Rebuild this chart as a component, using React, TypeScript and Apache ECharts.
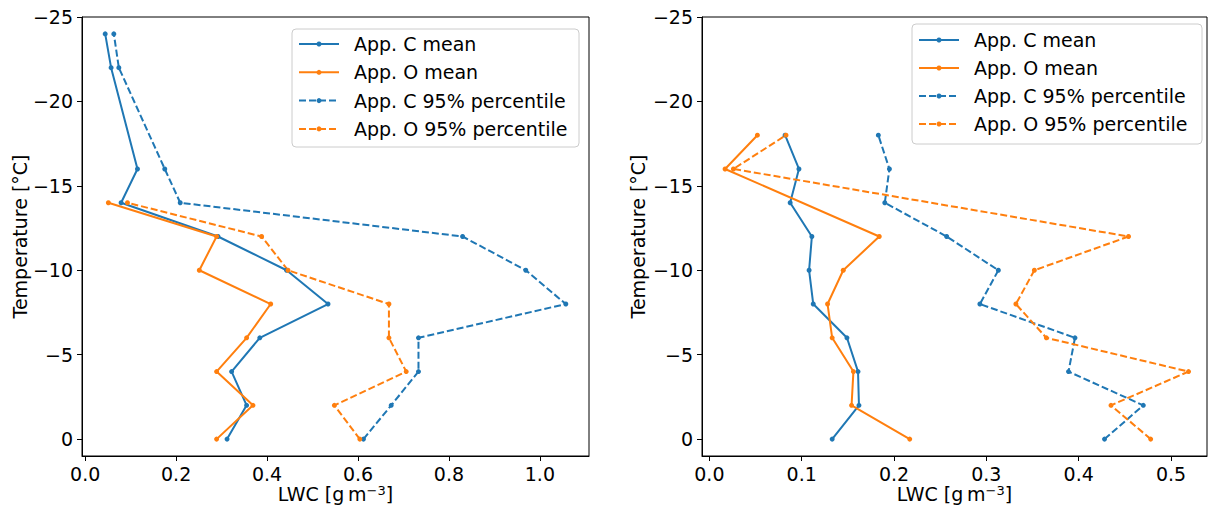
import React, { useEffect, useRef } from "react";
import * as echarts from "echarts";

// Temperature levels (°C) and LWC values (g m^-3)
const tempLeftC = [0, -2, -4, -6, -8, -10, -12, -14, -16, -22, -24];
const leftCMean = [0.312, 0.355, 0.322, 0.384, 0.534, 0.443, 0.292, 0.079, 0.115, 0.057, 0.044];
const leftC95 = [0.612, 0.673, 0.733, 0.733, 1.057, 0.969, 0.83, 0.209, 0.175, 0.074, 0.063];
const tempLeftO = [0, -2, -4, -6, -8, -10, -12, -14];
const leftOMean = [0.289, 0.369, 0.289, 0.355, 0.408, 0.251, 0.289, 0.051];
const leftO95 = [0.604, 0.548, 0.706, 0.668, 0.668, 0.446, 0.388, 0.093];

const tempRightC = [0, -2, -4, -6, -8, -10, -12, -14, -16, -18];
const rightCMean = [0.133, 0.162, 0.161, 0.149, 0.1125, 0.108, 0.111, 0.0875, 0.097, 0.082];
const rightC95 = [0.428, 0.47, 0.389, 0.396, 0.293, 0.313, 0.257, 0.19, 0.195, 0.183];
const tempRightO = [0, -2, -4, -6, -8, -10, -12, -16, -18];
const rightOMean = [0.217, 0.154, 0.156, 0.133, 0.128, 0.145, 0.184, 0.017, 0.052];
const rightO95 = [0.478, 0.435, 0.519, 0.365, 0.332, 0.352, 0.454, 0.026, 0.083];

const tempTicks = [-25, -20, -15, -10, -5, 0];
const leftXTicks = [0, 0.2, 0.4, 0.6, 0.8, 1.0];
const rightXTicks = [0, 0.1, 0.2, 0.3, 0.4, 0.5];

const seriesNames = ["App. C mean", "App. O mean", "App. C 95% percentile", "App. O 95% percentile"];

const BLUE = "#1f77b4";
const ORANGE = "#ff7f0e";
const FONT = "DejaVu Sans";
const FS = 19;
const DASH = [7, 3];

const fmtTemp = (v: number) => (v < 0 ? "\u2212" + Math.abs(v) : String(v));

function makeSeries(name: string, xs: number[], temps: number[], color: string, dashed: boolean, axis: number) {
  return {
    name,
    type: "line",
    xAxisIndex: axis,
    yAxisIndex: axis,
    data: temps.map((t, i) => [xs[i], t]),
    symbol: "circle",
    symbolSize: 5,
    showSymbol: true,
    silent: true,
    lineStyle: { color, width: 2, type: dashed ? DASH : "solid" },
    itemStyle: { color },
    emphasis: { disabled: true },
  };
}

// Matplotlib-style legend box: line sample with a dot marker, then the label
function legendGraphic(id: string, boxX: number, boxY: number, boxW: number, boxH: number, rowY0: number, rowStep: number, lineX: number, textX: number) {
  const colors = [BLUE, ORANGE, BLUE, ORANGE];
  const children: any[] = [
    {
      type: "rect",
      shape: { x: boxX, y: boxY, width: boxW, height: boxH, r: 4 },
      style: { fill: "rgba(255,255,255,0.8)", stroke: "#cccccc", lineWidth: 1 },
    },
  ];
  seriesNames.forEach((name, i) => {
    const y = rowY0 + i * rowStep;
    children.push({
      type: "line",
      shape: { x1: lineX, y1: y, x2: lineX + 40, y2: y },
      style: { stroke: colors[i], lineWidth: 2, lineDash: i >= 2 ? DASH : null },
    });
    children.push({
      type: "circle",
      shape: { cx: lineX + 20, cy: y, r: 2.5 },
      style: { fill: colors[i] },
    });
    children.push({
      type: "text",
      x: textX,
      y,
      style: { text: name, font: `${FS}px "${FONT}"`, fill: "#000", verticalAlign: "middle", align: "left" },
    });
  });
  return { id, type: "group", z: 100, children };
}

function xAxis(grid: number, min: number, max: number, ticks: number[], digits: number) {
  return {
    type: "value",
    gridIndex: grid,
    min,
    max,
    name: "LWC [g\u2009m{sup|\u22123}]",
    nameLocation: "middle",
    nameGap: 28,
    nameMoveOverlap: false,
    nameTextStyle: {
      fontFamily: FONT,
      fontSize: FS,
      color: "#000",
      lineHeight: 20,
      rich: { sup: { fontFamily: FONT, fontSize: 13, lineHeight: 10, verticalAlign: "top", color: "#000" } },
    },
    axisLine: { show: true, onZero: false, lineStyle: { color: "#000", width: 1 } },
    axisTick: { show: true, length: 5, inside: false, customValues: ticks, lineStyle: { color: "#000", width: 1 } },
    axisLabel: {
      customValues: ticks,
      formatter: (v: number) => v.toFixed(digits),
      fontFamily: FONT,
      fontSize: FS,
      color: "#000",
      margin: 8,
    },
    splitLine: { show: false },
  };
}

function yAxis(grid: number, gap: number) {
  return {
    type: "value",
    gridIndex: grid,
    inverse: true,
    min: -25,
    max: 1,
    name: "Temperature [°C]",
    nameLocation: "middle",
    nameRotate: 90,
    nameGap: gap,
    nameMoveOverlap: false,
    nameTextStyle: { fontFamily: FONT, fontSize: FS, color: "#000" },
    axisLine: { show: true, onZero: false, lineStyle: { color: "#000", width: 1 } },
    axisTick: { show: true, length: 5, inside: false, customValues: tempTicks, lineStyle: { color: "#000", width: 1 } },
    axisLabel: {
      customValues: tempTicks,
      formatter: fmtTemp,
      fontFamily: FONT,
      fontSize: FS,
      color: "#000",
      margin: 9,
    },
    splitLine: { show: false },
  };
}

export default function App() {
  const ref = useRef<HTMLDivElement>(null);

  useEffect(() => {
    if (!ref.current) return;
    const chart = echarts.init(ref.current, null, { renderer: "svg" });
    chart.setOption({
      animation: false,
      backgroundColor: "#ffffff",
      grid: [
        { left: 82, top: 17, width: 507, height: 439, show: true, borderColor: "#000", borderWidth: 1, containLabel: false, outerBoundsMode: "none" },
        { left: 702, top: 17, width: 505, height: 439, show: true, borderColor: "#000", borderWidth: 1, containLabel: false, outerBoundsMode: "none" },
      ],
      xAxis: [xAxis(0, -0.007, 1.108, leftXTicks, 1), xAxis(1, -0.008, 0.539, rightXTicks, 1)],
      yAxis: [yAxis(0, 53), yAxis(1, 55)],
      series: [
        makeSeries(seriesNames[0], leftCMean, tempLeftC, BLUE, false, 0),
        makeSeries(seriesNames[1], leftOMean, tempLeftO, ORANGE, false, 0),
        makeSeries(seriesNames[2], leftC95, tempLeftC, BLUE, true, 0),
        makeSeries(seriesNames[3], leftO95, tempLeftO, ORANGE, true, 0),
        makeSeries(seriesNames[0], rightCMean, tempRightC, BLUE, false, 1),
        makeSeries(seriesNames[1], rightOMean, tempRightO, ORANGE, false, 1),
        makeSeries(seriesNames[2], rightC95, tempRightC, BLUE, true, 1),
        makeSeries(seriesNames[3], rightO95, tempRightO, ORANGE, true, 1),
      ],
      graphic: [
        legendGraphic("legL", 292, 29, 287, 118, 44, 28.3, 299, 354),
        legendGraphic("legR", 912, 24, 290, 120, 40, 28, 919, 974),
      ],
    });
    return () => chart.dispose();
  }, []);

  return <div ref={ref} style={{ position: "fixed", left: 0, top: 0, width: 1208, height: 508 }} />;
}
